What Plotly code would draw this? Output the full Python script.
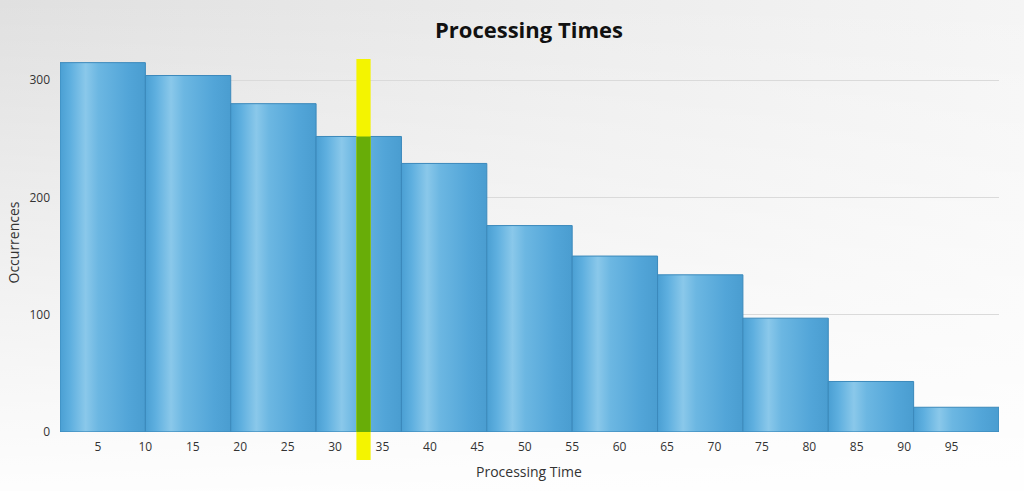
import numpy as np
import plotly.graph_objects as go

# ---- data ----
bin_edges = [1, 10, 19, 28, 37, 46, 55, 64, 73, 82, 91, 100]
occurrences = [315, 304, 280, 252, 229, 176, 150, 134, 97, 43, 21]
x_tick_values = list(range(5, 100, 5))
y_tick_values = [0, 100, 200, 300]
marker_value = 33.0      # highlighted processing time
marker_width = 1.5

title_text = "Processing Times"
x_title = "Processing Time"
y_title = "Occurrences"

W, H = 1024, 491      # reference geometry
FIG_H = 500           # rendered figure height
fig = go.Figure()

# background gradient (full-figure helper axes)
fig.add_trace(go.Scatter(
    x=[0, 1, 1, 0, 0], y=[0, 0, 1, 1, 0], xaxis="x", yaxis="y",
    mode="lines", line=dict(width=0), fill="toself",
    fillgradient=dict(type="horizontal",
                      colorscale=[[0, "#e0e0e0"], [0.6, "#ededed"], [1, "#f5f5f5"]]),
    hoverinfo="skip", showlegend=False))
fig.add_trace(go.Scatter(
    x=[0, 1, 1, 0, 0], y=[0, 0, 1, 1, 0], xaxis="x", yaxis="y",
    mode="lines", line=dict(width=0), fill="toself",
    fillgradient=dict(type="vertical",
                      colorscale=[[0, "rgba(255,255,255,0.95)"], [0.55, "rgba(255,255,255,0.45)"],
                                  [1, "rgba(255,255,255,0)"]]),
    hoverinfo="skip", showlegend=False))

# histogram bars with horizontal gradient
bar_scale = [[0, "#4a9fd3"], [0.12, "#5eafdf"], [0.3, "#8ac8ea"], [0.45, "#6cb7e2"],
             [0.8, "#52a5d8"], [1, "#4a9dd0"]]
for i, v in enumerate(occurrences):
    x0, x1 = bin_edges[i], bin_edges[i + 1]
    fig.add_trace(go.Scatter(
        x=[x0, x1, x1, x0, x0], y=[0, 0, v, v, 0], xaxis="x2", yaxis="y2",
        mode="lines", line=dict(color="#3b89bb", width=1), fill="toself",
        fillgradient=dict(type="horizontal", start=x0, stop=x1, colorscale=bar_scale),
        hoverinfo="skip", showlegend=False))

# highlighted marker band
idx = int(np.searchsorted(bin_edges, marker_value, side="right") - 1)
shapes = [
    dict(type="rect", xref="x2", yref="paper",
         x0=marker_value - marker_width / 2, x1=marker_value + marker_width / 2,
         y0=32 / H, y1=432 / H, fillcolor="#f4f400", line=dict(width=0), layer="above"),
    dict(type="rect", xref="x2", yref="y2",
         x0=marker_value - marker_width / 2, x1=marker_value + marker_width / 2,
         y0=0, y1=occurrences[idx], fillcolor="#68ad08", line=dict(width=0), layer="above"),
]

fig.update_layout(
    width=W, height=FIG_H, autosize=False,
    margin=dict(l=0, r=0, t=0, b=0),
    paper_bgcolor="white", plot_bgcolor="rgba(0,0,0,0)",
    showlegend=False,
    font=dict(family="Open Sans, Noto Sans, sans-serif", color="#333333", size=12),
    xaxis=dict(domain=[0, 1], range=[0, 1], visible=False, fixedrange=True),
    yaxis=dict(domain=[0, 1], range=[0, 1], visible=False, fixedrange=True),
    xaxis2=dict(domain=[60 / W, 999 / W], anchor="y2", range=[bin_edges[0], bin_edges[-1]],
                tickvals=x_tick_values, ticks="", showgrid=False, zeroline=False,
                showline=False, ticklabelstandoff=6, tickfont=dict(size=12, color="#333333")),
    yaxis2=dict(domain=[60 / H, 432 / H], anchor="x2", range=[0, 318],
                tickvals=y_tick_values, ticks="", showgrid=True, gridcolor="#dadada",
                gridwidth=1, zeroline=False, showline=False, ticklabelstandoff=9,
                tickfont=dict(size=12, color="#333333")),
    shapes=shapes,
    annotations=[
        dict(text=f"<b>{title_text}</b>", x=529 / W, y=1 - 29 / H, xref="paper", yref="paper",
             showarrow=False, xanchor="center", yanchor="middle",
             font=dict(size=22, color="#111111", family="Open Sans, Noto Sans, sans-serif")),
        dict(text=x_title, x=529 / W, y=1 - 471 / H, xref="paper", yref="paper",
             showarrow=False, xanchor="center", yanchor="middle",
             font=dict(size=14, color="#333333")),
        dict(text=y_title, x=13 / W, y=1 - 242 / H, xref="paper", yref="paper",
             showarrow=False, xanchor="center", yanchor="middle", textangle=-90,
             font=dict(size=14, color="#333333")),
    ],
)

fig.write_html("out.html",
               config={"displayModeBar": False, "responsive": False},
               post_script="document.body.style.margin='0';document.body.style.overflow='hidden';")
